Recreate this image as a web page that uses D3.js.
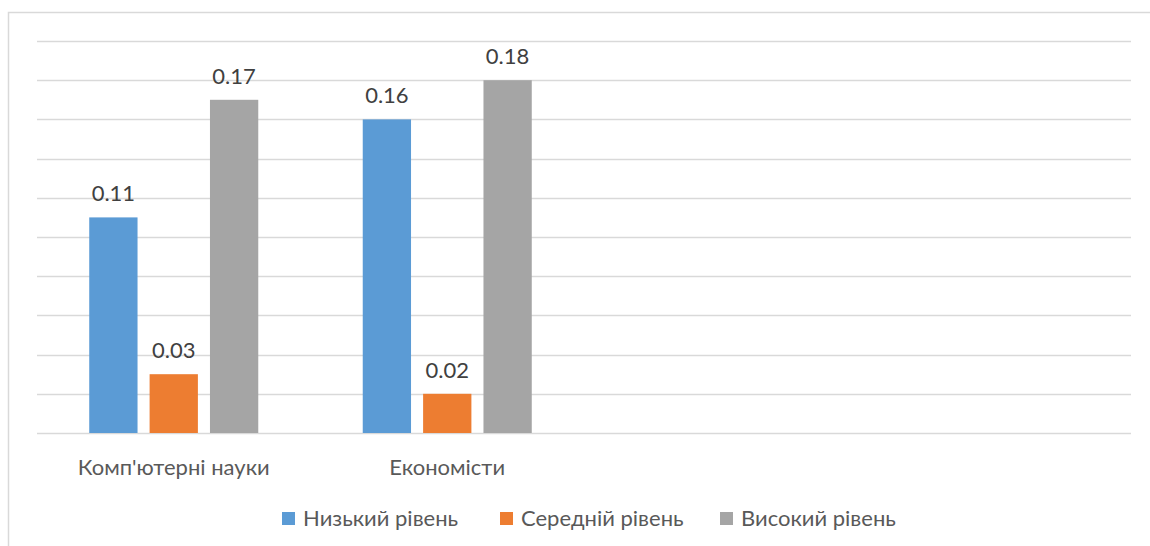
<!DOCTYPE html>
<html><head><meta charset="utf-8">
<script src="https://cdn.jsdelivr.net/npm/d3@7"></script>
<style>body{margin:0;background:#fff;} svg{display:block;}</style>
</head><body>
<svg id="c" width="1150" height="546"></svg>
<script>
const categories = ["Комп'ютерні науки", "Економісти", "", " "];
const seriesNames = ["Низький рівень", "Середній рівень", "Високий рівень"];
const lowValues = [0.11, 0.16, null, null];
const midValues = [0.03, 0.02, null, null];
const highValues = [0.17, 0.18, null, null];
const colors = ["#5b9bd5", "#ed7d31", "#a5a5a5"];
const gridTicks = d3.range(0, 0.2001, 0.02);

(function () {
const svg = d3.select("#c");
const font = "Lato, 'Open Sans', sans-serif";
svg.append("rect").attr("x", 8.5).attr("y", 12.5).attr("width", 1160).attr("height", 560)
  .attr("fill", "#fff").attr("stroke", "#d9d9d9").attr("stroke-width", 1.5);

const pL = 37, pR = 1131, pT = 41, pB = 433;
const x = d3.scaleBand().domain(categories).range([pL, pR]).paddingInner(0.382).paddingOuter(0.191);
const y = d3.scaleLinear().domain([0, 0.2]).range([pB, pT]);
const series = [lowValues, midValues, highValues];
const xs = d3.scaleBand().domain(d3.range(3)).range([0, x.bandwidth()]).paddingInner(0.2);

svg.append("g").selectAll("line").data(gridTicks).join("line")
  .attr("x1", pL).attr("x2", pR).attr("y1", d => Math.round(y(d)) + 0.5).attr("y2", d => Math.round(y(d)) + 0.5)
  .attr("stroke", "#d9d9d9").attr("stroke-width", 1.5);

series.forEach((vals, si) => {
  const g = svg.append("g");
  const data = categories.map((c, i) => ({c, v: vals[i]})).filter(d => d.v != null);
  g.selectAll("rect").data(data).join("rect")
    .attr("x", d => x(d.c) + xs(si)).attr("width", xs.bandwidth())
    .attr("y", d => y(d.v)).attr("height", d => y(0) - y(d.v))
    .attr("fill", colors[si]);
  g.selectAll("text").data(data).join("text")
    .attr("x", d => x(d.c) + xs(si) + xs.bandwidth() / 2).attr("y", d => y(d.v) - 16)
    .attr("text-anchor", "middle").attr("font-family", font).attr("font-size", 22)
    .attr("fill", "#404040").text(d => d.v.toFixed(2));
});

svg.append("g").selectAll("text").data(categories.slice(0, 2)).join("text")
  .attr("x", d => x(d) + x.bandwidth() / 2).attr("y", 475)
  .attr("text-anchor", "middle").attr("font-family", font).attr("font-size", 22)
  .attr("fill", "#595959").text(d => d);

const legendX = [282, 500, 720];
const lg = svg.append("g").selectAll("g").data(seriesNames).join("g")
  .attr("transform", (d, i) => `translate(${legendX[i]},512)`);
lg.append("rect").attr("width", 13).attr("height", 13).attr("fill", (d, i) => colors[i]);
lg.append("text").attr("x", 21).attr("y", 14).attr("font-family", font).attr("font-size", 22)
  .attr("fill", "#595959").text(d => d);
})();
</script>
</body></html>
